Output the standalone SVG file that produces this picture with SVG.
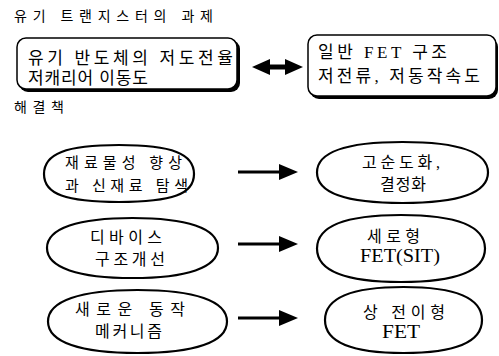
<svg xmlns="http://www.w3.org/2000/svg" width="499" height="356" viewBox="0 0 499 356">
<style>
text{font-family:"Liberation Serif","Noto Sans CJK KR",serif;fill:#000}
.t{font-size:14px}
.b{font-size:17px}
.s{font-size:16px}
.f{font-size:19px}
.e{fill:#fff;stroke:#000;stroke-width:2.2}
.c{stroke:#000;stroke-width:3;fill:none}
</style>
<rect width="499" height="356" fill="#fff"/>
<text class="t" x="14" y="21" textLength="199" lengthAdjust="spacing">유기 트랜지스터의 과제</text>
<text class="t" x="14" y="112" textLength="50" lengthAdjust="spacing">해결책</text>

<g id="box1">
<rect x="19" y="40" width="221" height="52" rx="9" fill="#000"/>
<rect x="17" y="38" width="220" height="51" rx="9" fill="#fff" stroke="#000" stroke-width="1.5"/>
<text class="b" x="28" y="64" textLength="205" lengthAdjust="spacing">유기 반도체의 저도전율</text>
<text class="b" x="28" y="84" textLength="120" lengthAdjust="spacing">저캐리어 이동도</text>
</g>
<g id="box2">
<rect x="310" y="38" width="188" height="61" rx="9" fill="#000"/>
<rect x="308" y="35" width="188" height="61" rx="9" fill="#fff" stroke="#000" stroke-width="1.5"/>
<text class="b" x="318" y="58" textLength="129" lengthAdjust="spacing">일반 FET 구조</text>
<text class="b" x="318" y="82" textLength="162" lengthAdjust="spacing">저전류, 저동작속도</text>
</g>

<g id="e1">
<path class="e" d="M44,174 C44,153.8 65.7,145 119,145 C172.3,145 194,153.8 194,174 C194,194.2 172.3,202 119,202 C65.7,202 44,194.2 44,174 Z"/>
<text class="s" x="65" y="168" textLength="117" lengthAdjust="spacing" style="font-size:15px">재료물성 향상</text>
<text class="s" x="65" y="191" textLength="123" lengthAdjust="spacing" style="font-size:15px">과 신재료 탐색</text>
</g>
<g id="e2">
<path class="e" d="M47,248 C47,228.2 78.6,218 132.5,218 C186.4,218 218,228.2 218,248 C218,267.8 186.4,278 132.5,278 C78.6,278 47,267.8 47,248 Z"/>
<text class="s" x="90" y="243" textLength="72" lengthAdjust="spacing">디바이스</text>
<text class="s" x="95" y="265" textLength="70" lengthAdjust="spacing">구조개선</text>
</g>
<g id="e3">
<path class="e" d="M48,321.5 C48,300.7 80.4,290 137.5,290 C194.6,290 227,300.7 227,321.5 C227,342.3 194.6,353 137.5,353 C80.4,353 48,342.3 48,321.5 Z"/>
<text class="s" x="75" y="315" textLength="110" lengthAdjust="spacing">새로운 동작</text>
<text class="s" x="95" y="337" textLength="67" lengthAdjust="spacing">메커니즘</text>
</g>
<g id="r1">
<path class="e" d="M317,172.5 C317,152.4 346.1,142 402.5,142 C458.9,142 488,152.4 488,172.5 C488,192.6 458.9,203 402.5,203 C346.1,203 317,192.6 317,172.5 Z"/>
<text class="s" x="362" y="168" textLength="78" lengthAdjust="spacing">고순도화,</text>
<text class="s" x="380" y="190" textLength="46" lengthAdjust="spacing">결정화</text>
</g>
<g id="r2">
<path class="e" d="M317,248.5 C317,226.4 345.6,215 401,215 C456.4,215 485,226.4 485,248.5 C485,270.6 456.4,282 401,282 C345.6,282 317,270.6 317,248.5 Z"/>
<text class="s" x="367" y="242" textLength="53" lengthAdjust="spacing">세로형</text>
<text class="f" x="360" y="262" textLength="80" lengthAdjust="spacingAndGlyphs">FET(SIT)</text>
</g>
<g id="r3">
<path class="e" d="M325,320 C325,298.2 351.7,287 403.5,287 C455.3,287 482,298.2 482,320 C482,341.8 455.3,353 403.5,353 C351.7,353 325,341.8 325,320 Z"/>
<text class="s" x="363" y="318" textLength="82" lengthAdjust="spacing">상 전이형</text>
<text class="f" x="382" y="338" textLength="38" lengthAdjust="spacingAndGlyphs">FET</text>
</g>

<g id="connectors">
<g id="dbl">
<path d="M252,67 L270,59 L270,75 Z" fill="#000"/>
<path d="M303,67 L285,59 L285,75 Z" fill="#000"/>
<line x1="268" y1="67" x2="287" y2="67" stroke="#000" stroke-width="5"/>
</g>
<line class="c" x1="238" y1="172" x2="281" y2="172"/>
<path d="M279,164 L298,172 L279,180 Z" fill="#000"/>
<line class="c" x1="238" y1="244" x2="281" y2="244"/>
<path d="M279,236 L298,244 L279,252 Z" fill="#000"/>
<line class="c" x1="238" y1="318" x2="281" y2="318"/>
<path d="M279,310 L298,318 L279,326 Z" fill="#000"/>
</g>
</svg>
